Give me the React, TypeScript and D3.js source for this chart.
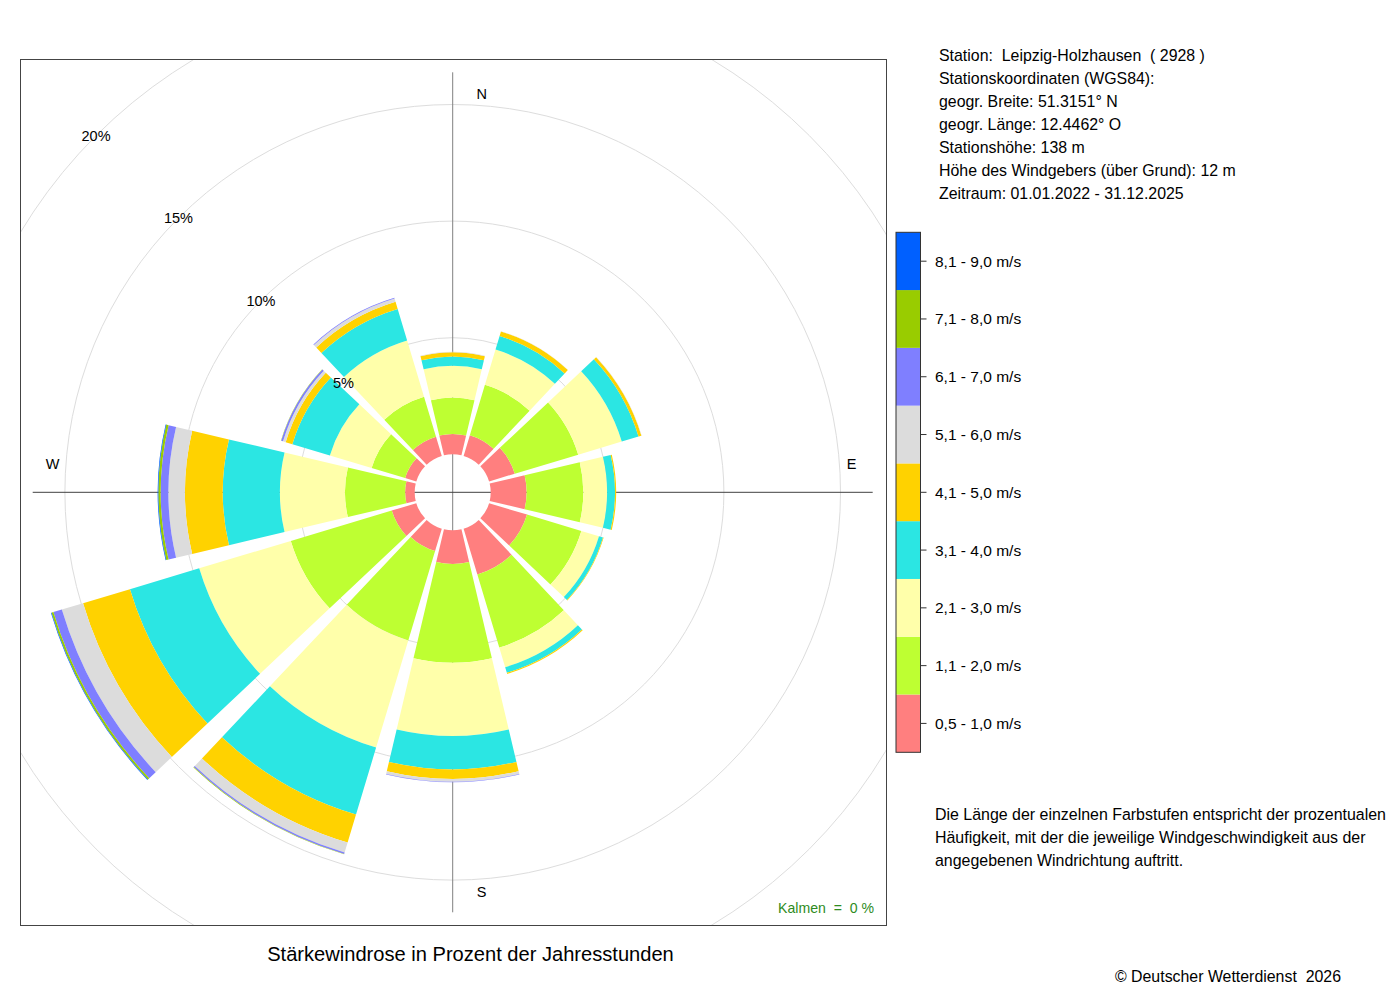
import React from 'react';
import * as d3 from 'd3';

// wind directions (degrees, 12 sectors of 30°)
const directions = [0, 30, 60, 90, 120, 150, 180, 210, 240, 270, 300, 330];

// frequency (% of hours) per speed class, one value per direction
const f05_10 = [0.87, 0.93, 1.15, 1.54, 1.7, 2.05, 1.44, 1.0, 1.1, 0.41, 0.5, 0.86];
const f11_20 = [1.56, 2.25, 2.84, 2.43, 2.43, 3.27, 4.24, 4.0, 4.52, 2.58, 1.5, 1.79];
const f21_30 = [1.36, 1.58, 1.95, 1.02, 0.79, 0.88, 3.14, 4.8, 4.1, 2.79, 1.87, 2.52];
const f31_40 = [0.4, 0.61, 0.75, 0.34, 0.18, 0.25, 1.43, 3.0, 3.1, 2.45, 1.68, 1.41];
const f41_50 = [0.18, 0.2, 0.13, 0.05, 0.03, 0.05, 0.41, 1.25, 2.1, 1.62, 0.3, 0.32];
const f51_60 = [0.02, 0.01, 0.01, 0, 0, 0, 0.12, 0.45, 0.95, 0.71, 0.12, 0.15];
const f61_70 = [0, 0, 0, 0, 0, 0, 0.02, 0.06, 0.38, 0.33, 0.08, 0.03];
const f71_80 = [0, 0, 0, 0, 0, 0, 0, 0.02, 0.08, 0.1, 0.01, 0];
const f81_90 = [0, 0, 0, 0, 0, 0, 0, 0, 0.03, 0.03, 0, 0];

const classLabels = [
  '0,5 - 1,0 m/s', '1,1 - 2,0 m/s', '2,1 - 3,0 m/s', '3,1 - 4,0 m/s', '4,1 - 5,0 m/s',
  '5,1 - 6,0 m/s', '6,1 - 7,0 m/s', '7,1 - 8,0 m/s', '8,1 - 9,0 m/s',
];
const classColors = [
  '#FF7F7F', '#BEFF32', '#FFFFAA', '#2BE6E3', '#FFD200',
  '#DCDCDC', '#7F7FFF', '#99CC00', '#0060FF',
];
const gridPercents = [5, 10, 15, 20];
const compass = [
  { label: 'N', dx: 29, dy: -398 },
  { label: 'E', dx: 399, dy: -28 },
  { label: 'S', dx: 29, dy: 400 },
  { label: 'W', dx: -400, dy: -28 },
];
const stationInfo = [
  'Station:  Leipzig-Holzhausen  ( 2928 )',
  'Stationskoordinaten (WGS84):',
  'geogr. Breite: 51.3151° N',
  'geogr. Länge: 12.4462° O',
  'Stationshöhe: 138 m',
  'Höhe des Windgebers (über Grund): 12 m',
  'Zeitraum: 01.01.2022 - 31.12.2025',
];
const noteLines = [
  'Die Länge der einzelnen Farbstufen entspricht der prozentualen',
  'Häufigkeit, mit der die jeweilige Windgeschwindigkeit aus der',
  'angegebenen Windrichtung auftritt.',
];

const series = [f05_10, f11_20, f21_30, f31_40, f41_50, f51_60, f61_70, f71_80, f81_90];

const font = '"Liberation Sans", Arial, Helvetica, sans-serif';

const App: React.FC = () => {
  const cx = 452.7;
  const cy = 492.3;
  const box = { x: 20, y: 59, w: 866, h: 866 };

  const r = d3.scaleLinear().domain([0, 20]).range([38, 504.4]);

  const keys = series.map((_, i) => `c${i}`);
  const table = directions.map((dir, j) => {
    const row: any = { dir };
    series.forEach((s, i) => { row[`c${i}`] = s[j]; });
    return row;
  });
  const stacked = d3.stack<any>().keys(keys)(table);

  const half = (13.3 * Math.PI) / 180;
  const arc = d3.arc<any>();

  // legend
  const legTop = 232.3;
  const legBottom = 752.3;
  const ly = d3.scaleBand<number>()
    .domain(d3.range(classLabels.length).reverse())
    .range([legTop, legBottom])
    .paddingInner(0);

  return (
    <svg width={1400} height={1000} style={{ position: 'absolute', left: 0, top: 0, background: '#fff' }}
      fontFamily={font}>
      <defs>
        <clipPath id="plotclip">
          <rect x={box.x} y={box.y} width={box.w} height={box.h} />
        </clipPath>
      </defs>
      <rect x={0} y={0} width={1400} height={1000} fill="#fff" />

      {/* grid circles */}
      <g clipPath="url(#plotclip)">
        {gridPercents.map(p => (
          <circle key={p} cx={cx} cy={cy} r={r(p)} fill="none" stroke="#DDDDDD" strokeWidth={1} />
        ))}
      </g>

      {/* axes */}
      <line x1={cx} x2={cx} y1={cy - 420} y2={cy + 420} stroke="#808080" strokeWidth={1} />
      <line x1={cx - 420} x2={cx + 420} y1={cy} y2={cy} stroke="#404040" strokeWidth={1} />

      {/* sectors */}
      <g transform={`translate(${cx},${cy})`}>
        {stacked.map((layer, i) => (
          <g key={layer.key} fill={classColors[i]}>
            {layer.map((d, j) => {
              if (d[1] - d[0] <= 0) return null;
              const a = (directions[j] * Math.PI) / 180;
              const path = arc({
                innerRadius: r(d[0]),
                outerRadius: r(d[1]),
                startAngle: a - half,
                endAngle: a + half,
              });
              return <path key={j} d={path || ''} />;
            })}
          </g>
        ))}
      </g>

      {/* percent labels */}
      {gridPercents.map(p => (
        <text key={p} x={cx - r(p) * Math.SQRT1_2} y={cy - r(p) * Math.SQRT1_2}
          fontSize={14.5} textAnchor="middle" dominantBaseline="central" fill="#000">
          {`${p}%`}
        </text>
      ))}

      {/* compass labels */}
      {compass.map(c => (
        <text key={c.label} x={cx + c.dx} y={cy + c.dy} fontSize={14.5} textAnchor="middle"
          dominantBaseline="central" fill="#000">{c.label}</text>
      ))}

      <text x={874} y={908} fontSize={14.1} textAnchor="end" dominantBaseline="central" fill="#2E8B22"
        style={{ whiteSpace: 'pre' }}>{'Kalmen  =  0 %'}</text>

      <rect x={box.x + 0.5} y={box.y + 0.5} width={box.w} height={box.h} fill="none" stroke="#444" strokeWidth={1} />

      {/* title */}
      <text x={470.5} y={954} fontSize={20.1} textAnchor="middle" dominantBaseline="central" fill="#000">
        Stärkewindrose in Prozent der Jahresstunden
      </text>
      <text x={1341} y={976} fontSize={15.9} textAnchor="end" dominantBaseline="central" fill="#000"
        style={{ whiteSpace: 'pre' }}>{'© Deutscher Wetterdienst  2026'}</text>

      {/* station info */}
      {stationInfo.map((t, i) => (
        <text key={i} x={939} y={55 + i * 23} fontSize={15.9} dominantBaseline="central" fill="#000"
          style={{ whiteSpace: 'pre' }}>{t}</text>
      ))}

      {/* colour legend */}
      {classLabels.map((lab, i) => {
        const y0 = ly(i) as number;
        const h = ly.bandwidth();
        return (
          <g key={lab}>
            <rect x={896} y={y0} width={24.5} height={h} fill={classColors[i]} />
            <line x1={920.5} x2={926.5} y1={y0 + h / 2} y2={y0 + h / 2} stroke="#333" strokeWidth={1} />
            <text x={935} y={y0 + h / 2} fontSize={15.5} dominantBaseline="central" fill="#000">{lab}</text>
          </g>
        );
      })}
      <rect x={896} y={legTop} width={24.5} height={legBottom - legTop} fill="none" stroke="#333" strokeWidth={1} />

      {noteLines.map((t, i) => (
        <text key={i} x={935} y={814 + i * 23} fontSize={15.95} dominantBaseline="central" fill="#000">{t}</text>
      ))}
    </svg>
  );
};

export default App;
